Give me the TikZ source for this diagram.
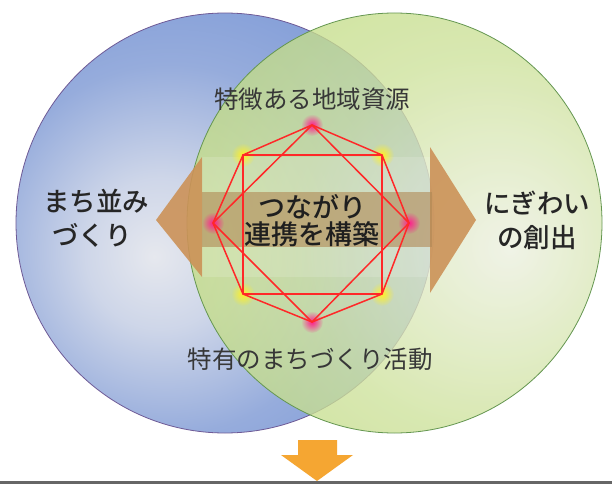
\documentclass[tikz,border=0pt]{standalone}
\usepackage{fontspec}
\newfontfamily\jp{Noto Sans CJK JP}
\newfontfamily\jpm{Noto Sans CJK JP Medium}
\usetikzlibrary{fadings}
\definecolor{bcenter}{RGB}{230,232,238}
\definecolor{bmid}{RGB}{150,172,220}
\definecolor{bedge}{RGB}{120,150,214}
\definecolor{gcenter}{RGB}{236,240,224}
\definecolor{gmid}{RGB}{206,226,156}
\definecolor{gedge}{RGB}{190,218,124}
\definecolor{bline}{RGB}{110,90,150}
\definecolor{gline}{RGB}{100,150,80}
\definecolor{arrowc}{RGB}{204,146,88}
\definecolor{bandc}{RGB}{176,136,84}
\definecolor{downc}{RGB}{245,166,50}
\definecolor{octc}{RGB}{255,40,40}
\definecolor{labc}{RGB}{55,55,55}
\pgfdeclareradialshading{blueball}{\pgfpoint{-8.5bp}{-4bp}}{color(0bp)=(bcenter); color(9bp)=(bcenter!70!bmid); color(22bp)=(bmid); color(38bp)=(bedge); color(100bp)=(bedge)}
\pgfdeclareradialshading{greenball}{\pgfpoint{14bp}{-3bp}}{color(0bp)=(gcenter); color(9bp)=(gcenter!60!gmid); color(22bp)=(gmid); color(40bp)=(gedge); color(100bp)=(gedge)}
\tikzfading[name=glowfade, inner color=transparent!0, outer color=transparent!100]
\tikzset{
  lab/.style={font=\jp\fontsize{24.5}{26}\selectfont, text=labc, inner sep=0pt},
  side/.style={font=\jpm\fontsize{26.5}{28}\selectfont, text=black!85, inner sep=0pt},
  mid/.style={font=\jpm\fontsize{27}{28}\selectfont, text=black!88, inner sep=0pt},
  oct/.style={draw=octc, line width=1.5pt, line join=round},
  pglow/.style={fill={rgb,255:red,255;green,30;blue,140}, path fading=glowfade},
  yglow/.style={fill={rgb,255:red,255;green,240;blue,40}, path fading=glowfade},
}
\begin{document}
\begin{tikzpicture}[x=1pt,y=-1pt]
\useasboundingbox (0,0) rectangle (612,484);
\fill[white] (0,0) rectangle (612,484);
% circles
\shade[shading=blueball] (225,223) ellipse [x radius=209pt, y radius=210pt];
\draw[bline, line width=0.8pt] (225,223) ellipse [x radius=209pt, y radius=210pt];
\shade[shading=greenball, fill opacity=0.78] (394.5,223) ellipse [x radius=207.5pt, y radius=210pt];
\draw[gline, line width=0.8pt] (394.5,223) ellipse [x radius=207.5pt, y radius=210pt];
% double arrow
\fill[arrowc, fill opacity=0.9] (156,220) -- (202,157) -- (202,277) -- cycle;
\fill[arrowc, fill opacity=0.9] (430,147) -- (476,220) -- (430,293) -- cycle;
\fill[white, fill opacity=0.15] (202,157) rectangle (430,277);
\fill[bandc, fill opacity=0.6] (202,192) rectangle (432,247);
% glows
\foreach \p in {(312,125),(409,223),(312,322),(213,223)} \fill[pglow] \p circle (11pt);
\foreach \p in {(243,155),(382,155),(243,294),(382,294)} \fill[yglow] \p circle (12pt);
% nodes of the figure
\coordinate (t) at (312,125);
\coordinate (r) at (409,223);
\coordinate (b) at (312,322);
\coordinate (l) at (213,223);
\coordinate (tl) at (243,155);
\coordinate (tr) at (382,155);
\coordinate (bl) at (243,294);
\coordinate (br) at (382,294);
% labels
\node[lab] (top) at (312,99) {特徴ある地域資源};
\node[lab] (bot) at (310,359) {特有のまちづくり活動};
\node[side] (l1) at (96,201) {まち並み};
\node[side] (l2) at (92,235) {づくり};
\node[side] (r1) at (537,203) {にぎわい};
\node[side] (r2) at (537,238) {の創出};
\node[mid] (c1) at (312,207) {つながり};
\node[mid] (c2) at (312,234) {連携を構築};
% octagon, square, diamond
\draw[oct] (t) -- (tr) -- (r) -- (br) -- (b) -- (bl) -- (l) -- (tl) -- cycle;
\draw[oct] (tl) -- (tr) -- (br) -- (bl) -- cycle;
\draw[oct] (t) -- (r) -- (b) -- (l) -- cycle;
% down arrow
\fill[downc] (298,440) -- (337,440) -- (337,455) -- (353,455) -- (317,481) -- (281,455) -- (298,455) -- cycle;
\fill[black!60] (0,481) rectangle (612,484);
\end{tikzpicture}
\end{document}
